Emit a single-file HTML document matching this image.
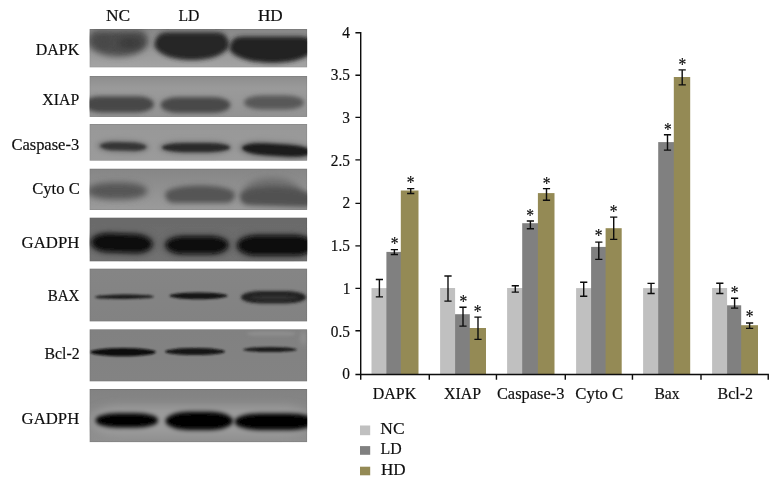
<!DOCTYPE html>
<html lang="en"><head><meta charset="utf-8"><title>Western blot and densitometry</title>
<style>html,body{margin:0;padding:0;background:#fff}body{width:779px;height:486px;overflow:hidden}svg{display:block}text{font-family:"Liberation Serif",serif;fill:#0c0c0c;stroke:#0c0c0c;stroke-width:.17px}</style></head><body>
<svg width="779" height="486" viewBox="0 0 779 486" role="img" aria-label="Western blot panels and relative protein expression bar chart">
<defs>
<filter id="b1_0" filterUnits="userSpaceOnUse" x="60" y="10" width="280" height="450"><feGaussianBlur stdDeviation="1.0"/></filter>
<filter id="b1_1" filterUnits="userSpaceOnUse" x="60" y="10" width="280" height="450"><feGaussianBlur stdDeviation="1.1"/></filter>
<filter id="b1_2" filterUnits="userSpaceOnUse" x="60" y="10" width="280" height="450"><feGaussianBlur stdDeviation="1.2"/></filter>
<filter id="b1_3" filterUnits="userSpaceOnUse" x="60" y="10" width="280" height="450"><feGaussianBlur stdDeviation="1.3"/></filter>
<filter id="b1_5" filterUnits="userSpaceOnUse" x="60" y="10" width="280" height="450"><feGaussianBlur stdDeviation="1.5"/></filter>
<filter id="b1_6" filterUnits="userSpaceOnUse" x="60" y="10" width="280" height="450"><feGaussianBlur stdDeviation="1.6"/></filter>
<filter id="b1_7" filterUnits="userSpaceOnUse" x="60" y="10" width="280" height="450"><feGaussianBlur stdDeviation="1.7"/></filter>
<filter id="b1_8" filterUnits="userSpaceOnUse" x="60" y="10" width="280" height="450"><feGaussianBlur stdDeviation="1.8"/></filter>
<filter id="b1_9" filterUnits="userSpaceOnUse" x="60" y="10" width="280" height="450"><feGaussianBlur stdDeviation="1.9"/></filter>
<filter id="b2_0" filterUnits="userSpaceOnUse" x="60" y="10" width="280" height="450"><feGaussianBlur stdDeviation="2.0"/></filter>
<filter id="b2_3" filterUnits="userSpaceOnUse" x="60" y="10" width="280" height="450"><feGaussianBlur stdDeviation="2.3"/></filter>
<filter id="b2_6" filterUnits="userSpaceOnUse" x="60" y="10" width="280" height="450"><feGaussianBlur stdDeviation="2.6"/></filter>
<filter id="b2_9" filterUnits="userSpaceOnUse" x="60" y="10" width="280" height="450"><feGaussianBlur stdDeviation="2.9"/></filter>
<filter id="b3_0" filterUnits="userSpaceOnUse" x="60" y="10" width="280" height="450"><feGaussianBlur stdDeviation="3.0"/></filter>
<filter id="b3_4" filterUnits="userSpaceOnUse" x="60" y="10" width="280" height="450"><feGaussianBlur stdDeviation="3.4"/></filter>
<filter id="b3_6" filterUnits="userSpaceOnUse" x="60" y="10" width="280" height="450"><feGaussianBlur stdDeviation="3.6"/></filter>
<filter id="b4_5" filterUnits="userSpaceOnUse" x="60" y="10" width="280" height="450"><feGaussianBlur stdDeviation="4.5"/></filter>
<linearGradient id="g0" x1="0" y1="0" x2="0" y2="1"><stop offset="0" stop-color="#888888"/><stop offset="1" stop-color="#a4a4a4"/></linearGradient>
<clipPath id="c0"><rect x="89.5" y="29.0" width="217.7" height="38.5"/></clipPath>
<linearGradient id="g1" x1="0" y1="0" x2="0" y2="1"><stop offset="0" stop-color="#8d8d8d"/><stop offset="0.3" stop-color="#9a9a9a"/><stop offset="1" stop-color="#939393"/></linearGradient>
<clipPath id="c1"><rect x="89.5" y="75.9" width="217.7" height="41"/></clipPath>
<linearGradient id="g2" x1="0" y1="0" x2="0" y2="1"><stop offset="0" stop-color="#989898"/><stop offset="1" stop-color="#9b9b9b"/></linearGradient>
<clipPath id="c2"><rect x="89.5" y="124" width="217.7" height="36.8"/></clipPath>
<linearGradient id="g3" x1="0" y1="0" x2="0" y2="1"><stop offset="0" stop-color="#868686"/><stop offset="1" stop-color="#9b9b9b"/></linearGradient>
<clipPath id="c3"><rect x="89.5" y="168.6" width="217.7" height="41.5"/></clipPath>
<linearGradient id="g4" x1="0" y1="0" x2="0" y2="1"><stop offset="0" stop-color="#6a6a6a"/><stop offset="1" stop-color="#727272"/></linearGradient>
<clipPath id="c4"><rect x="89.5" y="217.5" width="217.7" height="44"/></clipPath>
<linearGradient id="g5" x1="0" y1="0" x2="0" y2="1"><stop offset="0" stop-color="#858585"/><stop offset="1" stop-color="#828282"/></linearGradient>
<clipPath id="c5"><rect x="89.5" y="268.5" width="217.7" height="53.1"/></clipPath>
<linearGradient id="g6" x1="0" y1="0" x2="0" y2="1"><stop offset="0" stop-color="#818181"/><stop offset="1" stop-color="#838383"/></linearGradient>
<clipPath id="c6"><rect x="89.5" y="329.2" width="217.7" height="52.3"/></clipPath>
<linearGradient id="g7" x1="0" y1="0" x2="0" y2="1"><stop offset="0" stop-color="#828282"/><stop offset="1" stop-color="#8f8f8f"/></linearGradient>
<clipPath id="c7"><rect x="89.5" y="388.9" width="217.7" height="53.3"/></clipPath>
<filter id="soft" filterUnits="userSpaceOnUse" x="0" y="0" width="779" height="486"><feGaussianBlur stdDeviation="0.38"/></filter>
</defs>
<rect width="779" height="486" fill="#fff"/>
<!-- western blot panels -->
<g filter="url(#soft)">
<g clip-path="url(#c0)">
<rect x="89.5" y="29.0" width="217.7" height="38.5" fill="url(#g0)"/>
<path d="M88 43.5 Q88 30.5 98 30.5 H138 Q148 30.5 148 43.5 C140 60.83 96 60.83 88 43.5Z" fill="#4e4e4e" filter="url(#b3_0)"/>
<ellipse cx="130" cy="43" rx="13" ry="6.5" fill="#3e3e3e" filter="url(#b3_0)"/>
<ellipse cx="104" cy="42" rx="9" ry="4.5" fill="#464646" filter="url(#b3_0)"/>
<path d="M154.5 46.15 Q154.5 32.3 168.5 32.3 H215 Q229 32.3 229 46.15 C221 64.62 162.5 64.62 154.5 46.15Z" fill="#262626" filter="url(#b2_3)"/>
<path d="M229.5 49.75 Q229.5 36.5 243.5 36.5 H300 Q314 36.5 314 49.75 C304 67.42 239.5 67.42 229.5 49.75Z" fill="#242424" filter="url(#b2_3)"/>
<rect x="89.5" y="29.0" width="217.7" height="38.5" fill="none" stroke="#000" stroke-opacity=".1" stroke-width="1.6"/>
</g>
<g clip-path="url(#c1)">
<rect x="89.5" y="75.9" width="217.7" height="41" fill="url(#g1)"/>
<rect x="84" y="96.2" width="70" height="16.2" rx="16" ry="8.1" fill="#474747" filter="url(#b2_3)"/>
<rect x="160.5" y="96.9" width="70" height="16.1" rx="18" ry="8" fill="#4a4a4a" filter="url(#b2_3)"/>
<rect x="244" y="95.4" width="60" height="14.2" rx="18" ry="7.1" fill="#585858" filter="url(#b2_3)"/>
<rect x="89.5" y="75.9" width="217.7" height="41" fill="none" stroke="#000" stroke-opacity=".1" stroke-width="1.6"/>
</g>
<g clip-path="url(#c2)">
<rect x="89.5" y="124" width="217.7" height="36.8" fill="url(#g2)"/>
<rect x="96" y="139.5" width="54" height="14" rx="20" ry="7" fill="#828282" filter="url(#b2_6)" transform="rotate(1.5 123 146.5)"/>
<rect x="100" y="142.3" width="46.5" height="8.3" rx="16" ry="4.1" fill="#343434" filter="url(#b1_7)" transform="rotate(1.5 123.25 146.45)"/>
<rect x="158" y="140" width="75" height="15" rx="24" ry="7.5" fill="#828282" filter="url(#b2_6)"/>
<rect x="162" y="142.9" width="68" height="9.3" rx="22" ry="4.6" fill="#2a2a2a" filter="url(#b1_7)"/>
<rect x="238" y="141" width="76" height="18" rx="24" ry="9" fill="#808080" filter="url(#b2_6)" transform="rotate(3.5 276 150)"/>
<rect x="242" y="144" width="70" height="12" rx="24" ry="6" fill="#1a1a1a" filter="url(#b1_8)" transform="rotate(3.5 277 150)"/>
<rect x="89.5" y="124" width="217.7" height="36.8" fill="none" stroke="#000" stroke-opacity=".1" stroke-width="1.6"/>
</g>
<g clip-path="url(#c3)">
<rect x="89.5" y="168.6" width="217.7" height="41.5" fill="url(#g3)"/>
<rect x="87" y="182.5" width="60.5" height="17" rx="24" ry="8.5" fill="#565656" filter="url(#b3_4)"/>
<path d="M165 193.38 Q165 203 175 203 H225 Q235 203 235 193.38 C230 182.88 170 182.88 165 193.38Z" fill="#545454" filter="url(#b2_9)"/>
<path d="M242 191.2 Q242 200 250 200 H294 Q302 200 302 191.2 C292 173.6 252 173.6 242 191.2Z" fill="#6c6c6c" filter="url(#b3_6)"/>
<path d="M240 196.5 Q240 206 250 206 H304 Q314 206 314 196.5 C308 183.83 246 183.83 240 196.5Z" fill="#515151" filter="url(#b2_9)" transform="rotate(2 277 196.5)"/>
<rect x="89.5" y="168.6" width="217.7" height="41.5" fill="none" stroke="#000" stroke-opacity=".1" stroke-width="1.6"/>
</g>
<g clip-path="url(#c4)">
<rect x="89.5" y="217.5" width="217.7" height="44" fill="url(#g4)"/>
<rect x="88" y="231" width="68" height="24.5" rx="20" ry="12" fill="#565656" filter="url(#b3_0)" transform="rotate(2 122 243.25)"/>
<rect x="91.5" y="234" width="60.5" height="18.3" rx="17" ry="9.1" fill="#0a0a0a" filter="url(#b2_0)" transform="rotate(2 121.75 243.15)"/>
<rect x="162" y="233.5" width="70" height="23.5" rx="20" ry="12" fill="#565656" filter="url(#b3_0)"/>
<rect x="166" y="236.4" width="62" height="17.4" rx="17" ry="8.7" fill="#0a0a0a" filter="url(#b2_0)"/>
<rect x="234" y="232.5" width="81" height="26" rx="22" ry="13" fill="#565656" filter="url(#b3_0)"/>
<rect x="237.5" y="235.4" width="76.5" height="19.9" rx="20" ry="9.9" fill="#0a0a0a" filter="url(#b2_0)"/>
<rect x="89.5" y="217.5" width="217.7" height="44" fill="none" stroke="#000" stroke-opacity=".1" stroke-width="1.6"/>
</g>
<g clip-path="url(#c5)">
<rect x="89.5" y="268.5" width="217.7" height="53.1" fill="url(#g5)"/>
<ellipse cx="124.3" cy="296.8" rx="29.7" ry="2.2" fill="#1a1a1a" filter="url(#b1_0)" transform="rotate(-0.5 124.3 296.8)"/>
<ellipse cx="198.5" cy="295.8" rx="29.2" ry="3.4" fill="#181818" filter="url(#b1_2)"/>
<rect x="241" y="291" width="65" height="12.5" rx="20" ry="6.2" fill="#202020" filter="url(#b1_5)"/>
<ellipse cx="274" cy="297.6" rx="24" ry="2.2" fill="#323232" filter="url(#b1_6)"/>
<rect x="89.5" y="268.5" width="217.7" height="53.1" fill="none" stroke="#000" stroke-opacity=".1" stroke-width="1.6"/>
</g>
<g clip-path="url(#c6)">
<rect x="89.5" y="329.2" width="217.7" height="52.3" fill="url(#g6)"/>
<ellipse cx="123" cy="352.1" rx="33" ry="4.2" fill="#101010" filter="url(#b1_3)"/>
<ellipse cx="195" cy="351.6" rx="30" ry="3.5" fill="#121212" filter="url(#b1_3)"/>
<ellipse cx="270" cy="349.6" rx="27" ry="2.5" fill="#1c1c1c" filter="url(#b1_1)"/>
<rect x="247" y="331.8" width="49" height="3.8" rx="10" ry="1.9" fill="#8f8f8f" filter="url(#b1_5)"/>
<ellipse cx="303.5" cy="338" rx="3.5" ry="7" fill="#8e8e8e" filter="url(#b2_0)"/>
<rect x="89.5" y="329.2" width="217.7" height="52.3" fill="none" stroke="#000" stroke-opacity=".1" stroke-width="1.6"/>
</g>
<g clip-path="url(#c7)">
<rect x="89.5" y="388.9" width="217.7" height="53.3" fill="url(#g7)"/>
<rect x="90" y="406" width="222" height="30" rx="30" ry="15" fill="#9b9b9b" filter="url(#b4_5)"/>
<rect x="95.5" y="413.2" width="62.5" height="14.4" rx="22" ry="7.2" fill="#050505" filter="url(#b1_9)"/>
<rect x="165.5" y="411.8" width="67.5" height="18.2" rx="24" ry="9.1" fill="#050505" filter="url(#b1_9)"/>
<rect x="234.5" y="413.4" width="80.5" height="16.6" rx="26" ry="8.3" fill="#050505" filter="url(#b1_9)"/>
<rect x="89.5" y="388.9" width="217.7" height="53.3" fill="none" stroke="#000" stroke-opacity=".1" stroke-width="1.6"/>
</g>
</g>
<g filter="url(#soft)">
<!-- bars -->
<rect x="371.5" y="288.1" width="15.8" height="86.35" fill="#c0c0c0"/>
<rect x="386.4" y="251.9" width="15.3" height="122.55" fill="#808080"/>
<rect x="400.8" y="190.5" width="17.7" height="183.95" fill="#948a54"/>
<rect x="468.9" y="328" width="17.1" height="46.45" fill="#948a54"/>
<rect x="454.2" y="314.2" width="15.6" height="60.25" fill="#808080"/>
<rect x="440.1" y="288" width="15" height="86.45" fill="#c0c0c0"/>
<rect x="507.1" y="288" width="16" height="86.45" fill="#c0c0c0"/>
<rect x="522.2" y="223.2" width="16.6" height="151.25" fill="#808080"/>
<rect x="537.9" y="193.1" width="16.6" height="181.35" fill="#948a54"/>
<rect x="576.1" y="288.1" width="15.9" height="86.35" fill="#c0c0c0"/>
<rect x="591.1" y="246.9" width="15.4" height="127.55" fill="#808080"/>
<rect x="605.6" y="228.2" width="16.1" height="146.25" fill="#948a54"/>
<rect x="643.1" y="288.1" width="16" height="86.35" fill="#c0c0c0"/>
<rect x="658.2" y="142.1" width="16.5" height="232.35" fill="#808080"/>
<rect x="673.8" y="77" width="16.4" height="297.45" fill="#948a54"/>
<rect x="740.3" y="325.2" width="17.7" height="49.25" fill="#948a54"/>
<rect x="726.2" y="305.3" width="15" height="69.15" fill="#808080"/>
<rect x="712.1" y="288" width="15" height="86.45" fill="#c0c0c0"/>
<!-- axes -->
<g stroke="#0c0c0c" stroke-width="1.4" fill="none">
<path d="M360.7 32 V379.65 M355.4 374.45 H768.95 M355.4 330.8 H360.7 M355.4 288.4 H360.7 M355.4 245.9 H360.7 M355.4 203.4 H360.7 M355.4 159.9 H360.7 M355.4 117.4 H360.7 M355.4 75.2 H360.7 M355.4 32.7 H360.7 M429.3 374.45 V379.65 M496.45 374.45 V379.65 M565.3 374.45 V379.65 M632.45 374.45 V379.65 M701 374.45 V379.65 M768.25 374.45 V379.65"/>
<path d="M379.4 279.5 V296.9 M375.8 279.5 h7.2 M375.8 296.9 h7.2 M394.4 249.6 V254.5 M390.8 249.6 h7.2 M390.8 254.5 h7.2 M410.7 188.6 V193.5 M407.1 188.6 h7.2 M407.1 193.5 h7.2 M448 276 V301.1 M444.4 276 h7.2 M444.4 301.1 h7.2 M463 307.3 V326.1 M459.4 307.3 h7.2 M459.4 326.1 h7.2 M478 317.1 V339.4 M474.4 317.1 h7.2 M474.4 339.4 h7.2 M515.3 285.7 V292.1 M511.7 285.7 h7.2 M511.7 292.1 h7.2 M530.4 221 V228.8 M526.8 221 h7.2 M526.8 228.8 h7.2 M546.5 188.6 V200.2 M542.9 188.6 h7.2 M542.9 200.2 h7.2 M583.7 282.2 V296.3 M580.1 282.2 h7.2 M580.1 296.3 h7.2 M598.8 242.1 V259.4 M595.2 242.1 h7.2 M595.2 259.4 h7.2 M613.7 217.1 V239.4 M610.1 217.1 h7.2 M610.1 239.4 h7.2 M651.1 283.4 V293.5 M647.5 283.4 h7.2 M647.5 293.5 h7.2 M667.5 134.8 V150.1 M663.9 134.8 h7.2 M663.9 150.1 h7.2 M682.2 69.9 V84.9 M678.6 69.9 h7.2 M678.6 84.9 h7.2 M719.8 283.2 V293.5 M716.2 283.2 h7.2 M716.2 293.5 h7.2 M734.6 298.2 V308.1 M731 298.2 h7.2 M731 308.1 h7.2 M749.6 323 V328.4 M746 323 h7.2 M746 328.4 h7.2"/>
</g>
<!-- significance stars -->
<text transform="translate(394.5 240.9) scale(.97 1.14)" x="-4" y="8.4" font-size="16">*</text>
<text transform="translate(410.5 179.8) scale(.97 1.14)" x="-4" y="8.4" font-size="16">*</text>
<text transform="translate(463.3 298.9) scale(.97 1.14)" x="-4" y="8.4" font-size="16">*</text>
<text transform="translate(477.5 308.5) scale(.97 1.14)" x="-4" y="8.4" font-size="16">*</text>
<text transform="translate(530.2 212.1) scale(.97 1.14)" x="-4" y="8.4" font-size="16">*</text>
<text transform="translate(546.5 180.3) scale(.97 1.14)" x="-4" y="8.4" font-size="16">*</text>
<text transform="translate(598.5 232.3) scale(.97 1.14)" x="-4" y="8.4" font-size="16">*</text>
<text transform="translate(613.7 208.3) scale(.97 1.14)" x="-4" y="8.4" font-size="16">*</text>
<text transform="translate(667.9 126.7) scale(.97 1.14)" x="-4" y="8.4" font-size="16">*</text>
<text transform="translate(682.4 61.9) scale(.97 1.14)" x="-4" y="8.4" font-size="16">*</text>
<text transform="translate(734.5 289.9) scale(.97 1.14)" x="-4" y="8.4" font-size="16">*</text>
<text transform="translate(749.6 313.9) scale(.97 1.14)" x="-4" y="8.4" font-size="16">*</text>
<!-- labels -->
<text transform="translate(35.73 55) scale(0.9399 1)" font-size="17">DAPK</text>
<text transform="translate(42.37 105) scale(0.929 1)" font-size="17">XIAP</text>
<text transform="translate(11.41 150) scale(0.9702 1)" font-size="17">Caspase-3</text>
<text transform="translate(32.21 194) scale(0.9778 1)" font-size="17">Cyto C</text>
<text transform="translate(21.61 248) scale(0.987 1)" font-size="17">GADPH</text>
<text transform="translate(47.66 301) scale(0.8851 1)" font-size="17">BAX</text>
<text transform="translate(44.43 359) scale(0.9315 1)" font-size="17">Bcl-2</text>
<text transform="translate(21.61 424) scale(0.9835 1)" font-size="17">GADPH</text>
<text transform="translate(105.89 21) scale(1.0292 1)" font-size="17">NC</text>
<text transform="translate(178.44 21) scale(0.9256 1)" font-size="17">LD</text>
<text transform="translate(257.89 21) scale(1.0128 1)" font-size="17">HD</text>
<text transform="translate(372.73 399) scale(0.9399 1)" font-size="17">DAPK</text>
<text transform="translate(443.97 399) scale(0.9342 1)" font-size="17">XIAP</text>
<text transform="translate(496.92 399) scale(0.9658 1)" font-size="17">Caspase-3</text>
<text transform="translate(575.31 399) scale(0.9873 1)" font-size="17">Cyto C</text>
<text transform="translate(654.44 399) scale(0.9196 1)" font-size="17">Bax</text>
<text transform="translate(717.53 399) scale(0.937 1)" font-size="17">Bcl-2</text>
<text transform="translate(380.29 434) scale(1.0292 1)" font-size="17">NC</text>
<text transform="translate(380.53 454) scale(0.9349 1)" font-size="17">LD</text>
<text transform="translate(381 475) scale(1.0085 1)" font-size="17">HD</text>
<text transform="translate(342.24 379) scale(0.955 1)" font-size="16.1">0</text>
<text transform="translate(330.78 337) scale(0.955 1)" font-size="16.1">0.5</text>
<text transform="translate(342.71 294) scale(0.955 1)" font-size="16.1">1</text>
<text transform="translate(330.78 251) scale(0.955 1)" font-size="16.1">1.5</text>
<text transform="translate(342.48 208) scale(0.955 1)" font-size="16.1">2</text>
<text transform="translate(330.78 166) scale(0.955 1)" font-size="16.1">2.5</text>
<text transform="translate(342.24 123) scale(0.955 1)" font-size="16.1">3</text>
<text transform="translate(330.78 80) scale(0.955 1)" font-size="16.1">3.5</text>
<text transform="translate(342.16 38) scale(0.955 1)" font-size="16.1">4</text>
<!-- legend -->
<rect x="360" y="425.5" width="10.2" height="9.7" fill="#c0c0c0"/>
<rect x="360" y="446.1" width="10.2" height="8.7" fill="#808080"/>
<rect x="360" y="466.7" width="10.2" height="8.6" fill="#948a54"/>
</g>
</svg></body></html>
